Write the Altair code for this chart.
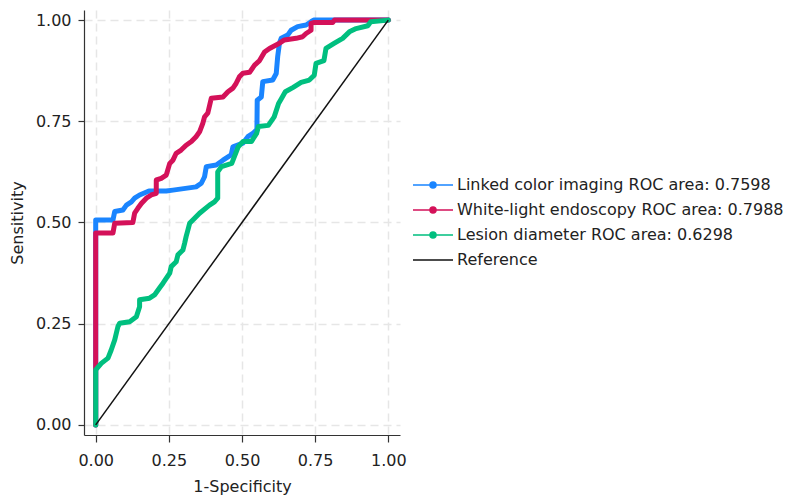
import altair as alt
import pandas as pd

LCI = "Linked color imaging ROC area: 0.7598"
WLE = "White-light endoscopy ROC area: 0.7988"
LD = "Lesion diameter ROC area: 0.6298"
REF = "Reference"
series_names = [LCI, WLE, LD, REF]
series_colors = ["#1a85ff", "#d41159", "#00bf7f", "#111111"]

lci_fpr = [0, 0, 0.059, 0.065, 0.093, 0.105, 0.122, 0.133, 0.150, 0.182, 0.241, 0.264, 0.343, 0.361, 0.372,
           0.378, 0.412, 0.435, 0.463, 0.469, 0.503, 0.520, 0.537, 0.551, 0.552, 0.566, 0.571, 0.605, 0.617,
           0.622, 0.628, 0.634, 0.656, 0.668, 0.690, 0.719, 0.736, 0.745, 1.0]
lci_tpr = [0, 0.506, 0.506, 0.527, 0.531, 0.543, 0.551, 0.560, 0.568, 0.578, 0.578, 0.580, 0.588, 0.597, 0.613,
           0.638, 0.642, 0.654, 0.667, 0.687, 0.696, 0.712, 0.720, 0.730, 0.802, 0.810, 0.848, 0.852, 0.868,
           0.910, 0.943, 0.955, 0.963, 0.975, 0.984, 0.988, 0.996, 1.0, 1.0]

wle_fpr = [0, 0, 0.059, 0.065, 0.127, 0.133, 0.144, 0.156, 0.173, 0.190, 0.207, 0.207, 0.224, 0.241, 0.253,
           0.264, 0.275, 0.292, 0.309, 0.327, 0.343, 0.355, 0.366, 0.372, 0.383, 0.395, 0.435, 0.452, 0.469,
           0.480, 0.491, 0.503, 0.526, 0.543, 0.560, 0.577, 0.594, 0.628, 0.645, 0.685, 0.707, 0.719, 0.736,
           0.736, 0.747, 0.810, 0.816, 1.0]
wle_tpr = [0, 0.474, 0.474, 0.498, 0.500, 0.523, 0.535, 0.547, 0.560, 0.568, 0.572, 0.605, 0.609, 0.617, 0.646,
           0.654, 0.671, 0.679, 0.691, 0.700, 0.712, 0.724, 0.745, 0.761, 0.770, 0.807, 0.810, 0.823, 0.832,
           0.844, 0.860, 0.869, 0.871, 0.889, 0.900, 0.921, 0.930, 0.943, 0.951, 0.955, 0.959, 0.967, 0.975,
           0.992, 0.994, 0.994, 1.0, 1.0]

ld_fpr = [0, 0, 0.019, 0.042, 0.053, 0.065, 0.076, 0.082, 0.116, 0.139, 0.150, 0.150, 0.184, 0.201, 0.218,
          0.230, 0.253, 0.258, 0.275, 0.281, 0.298, 0.304, 0.309, 0.315, 0.321, 0.355, 0.389, 0.406, 0.417,
          0.417, 0.430, 0.465, 0.487, 0.503, 0.532, 0.550, 0.556, 0.590, 0.610, 0.625, 0.634, 0.648, 0.675,
          0.702, 0.730, 0.747, 0.753, 0.780, 0.787, 0.816, 0.844, 0.867, 0.890, 0.930, 0.940, 1.0]
ld_tpr = [0, 0.136, 0.152, 0.165, 0.185, 0.210, 0.243, 0.251, 0.255, 0.267, 0.292, 0.309, 0.313, 0.321, 0.338,
          0.350, 0.375, 0.391, 0.403, 0.420, 0.432, 0.449, 0.465, 0.481, 0.498, 0.523, 0.543, 0.551, 0.560,
          0.625, 0.638, 0.646, 0.687, 0.700, 0.700, 0.720, 0.737, 0.740, 0.761, 0.794, 0.805, 0.823, 0.834,
          0.846, 0.852, 0.864, 0.893, 0.900, 0.930, 0.943, 0.955, 0.971, 0.979, 0.986, 0.996, 1.0]

ref_fpr = [0, 1]
ref_tpr = [0, 1]

rows = []
for name, xs, ys in [(LCI, lci_fpr, lci_tpr), (WLE, wle_fpr, wle_tpr), (LD, ld_fpr, ld_tpr), (REF, ref_fpr, ref_tpr)]:
    for i, (a, b) in enumerate(zip(xs, ys)):
        rows.append({"fpr": a, "tpr": b, "series": name, "i": i})
df = pd.DataFrame(rows)

FONT = "DejaVu Sans, sans-serif"
FS = 16
ticks = [0, 0.25, 0.5, 0.75, 1.0]

dot_path = "M-1,0L7,0M2.4,0A0.6,0.6 0 1,1 3.6,0A0.6,0.6 0 1,1 2.4,0Z"
line_path = "M-1,0L7,0"
series_shapes = [dot_path, dot_path, dot_path, line_path]

legend = alt.Legend(
    title=None, orient="none", legendX=326, legendY=167, padding=0,
    symbolSize=100, symbolStrokeWidth=1.5, labelOffset=31, rowPadding=9,
    labelFontSize=FS, labelFont=FONT, labelColor="#222", labelLimit=500,
)

color = alt.Color("series:N", scale=alt.Scale(domain=series_names, range=series_colors), legend=legend)
stroke = alt.Stroke("series:N", scale=alt.Scale(domain=series_names, range=series_colors), legend=legend)
shape = alt.Shape("series:N", scale=alt.Scale(domain=series_names, range=series_shapes), legend=legend)

x = alt.X("fpr:Q", title="1-Specificity",
          scale=alt.Scale(domain=[-0.04, 1.04], nice=False, zero=False),
          axis=alt.Axis(values=ticks, format=".2f", tickSize=7, labelPadding=10, titlePadding=10))
y = alt.Y("tpr:Q", title="Sensitivity",
          scale=alt.Scale(domain=[-0.025, 1.025], nice=False, zero=False),
          axis=alt.Axis(values=ticks, format=".2f", tickSize=6, labelPadding=7, titlePadding=10))

layers = []
for name in [LCI, WLE, LD]:
    layers.append(
        alt.Chart(df).transform_filter(alt.datum.series == name)
        .mark_line(strokeWidth=5, strokeJoin="round", strokeCap="round")
        .encode(x=x, y=y, color=color, order="i:Q")
    )
layers.append(
    alt.Chart(df).transform_filter(alt.datum.series == REF)
    .mark_line(strokeWidth=1.5)
    .encode(x=x, y=y, color=color, order="i:Q")
)
# legend-only layer (no rows pass the filter; legend entries come from the scale domain)
layers.append(
    alt.Chart(df).transform_filter("datum.i < 0")
    .mark_point(filled=True, strokeWidth=1.5, opacity=1)
    .encode(x=x, y=y, color=color, stroke=stroke, shape=shape)
)

chart = alt.layer(*layers).properties(
    width=316, height=425,
    autosize=alt.AutoSizeParams(type="none"),
    padding={"left": 76, "top": 2, "right": 385, "bottom": 60},
).configure_view(stroke=None).configure_axis(
    labelFont=FONT, titleFont=FONT, labelFontSize=FS, titleFontSize=FS,
    labelColor="#222", titleColor="#222", titleFontWeight="normal",
    domainColor="#333", tickColor="#333", domainWidth=1.2, tickWidth=1.2,
    gridColor="#e6e6e6", gridDash=[8, 5], gridWidth=1.5,
)

chart.save("out.html", embed_options={"renderer": "svg", "actions": False})
